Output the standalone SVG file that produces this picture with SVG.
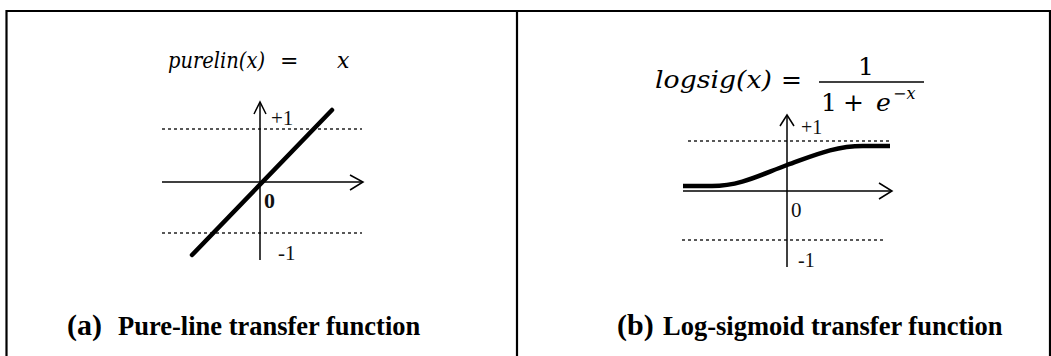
<svg xmlns="http://www.w3.org/2000/svg" width="1051" height="356" viewBox="0 0 1051 356">
<style>
.frame{stroke:#000;stroke-width:2.2;fill:none}
.axis{stroke:#000;stroke-width:1.5;fill:none}
.arrow{stroke:#000;stroke-width:1.5;fill:none;stroke-linejoin:miter}
.dash{stroke:#222;stroke-width:1.3;stroke-dasharray:3 3;fill:none}
.curve{stroke:#000;stroke-width:4.5;fill:none;stroke-linecap:round}
.eq{font-family:"DejaVu Serif","Liberation Serif",serif;font-style:italic;fill:#000}
.num{font-family:"DejaVu Serif","Liberation Serif",serif;fill:#000}
.lbl{font-family:"Liberation Serif",serif;fill:#111}
.cap{font-family:"Liberation Serif",serif;font-weight:bold;fill:#000}
</style>
<rect width="1051" height="356" fill="#fff"/>
<g id="frame">
<path class="frame" d="M6.5,356 V11 H1051"/>
<path class="frame" d="M517,11 V356"/>
<path class="frame" d="M1050,11 V356"/>
</g>
<g id="panel-a">
<text class="eq" x="168" y="68" font-size="22" textLength="97" lengthAdjust="spacingAndGlyphs">purelin(x)</text>
<text class="num" x="280" y="68" font-size="22">=</text>
<text class="eq" x="337" y="68" font-size="22">x</text>
<line class="dash" x1="162" y1="129" x2="362" y2="129"/>
<line class="dash" x1="162" y1="233" x2="362" y2="233"/>
<line class="axis" x1="260" y1="102" x2="260" y2="260"/>
<line class="axis" x1="162" y1="182" x2="362" y2="182"/>
<path class="arrow" d="M254,114 L260,102 L266,114"/>
<path class="arrow" d="M350,175 L363,182 L350,190"/>
<line class="curve" x1="192" y1="255" x2="332" y2="110"/>
<text class="lbl" x="271" y="125" font-size="21">+1</text>
<text class="lbl" x="264" y="208" font-size="22" font-weight="bold">0</text>
<text class="lbl" x="278" y="260" font-size="21">-1</text>
<text class="cap" x="67" y="335" font-size="30">(a)</text>
<text class="cap" x="118" y="335" font-size="26.5">Pure-line transfer function</text>
</g>
<g id="panel-b">
<text class="eq" x="655" y="88" font-size="25" textLength="117" lengthAdjust="spacingAndGlyphs">logsig(x)</text>
<text class="num" x="781" y="88" font-size="25">=</text>
<line x1="819" y1="82" x2="924" y2="82" stroke="#000" stroke-width="1.5"/>
<text class="num" x="866" y="75" font-size="25" text-anchor="middle">1</text>
<text class="num" x="821" y="111" font-size="25">1</text>
<text class="num" x="843" y="111" font-size="25">+</text>
<text class="eq" x="876" y="111" font-size="25">e</text>
<text class="eq" x="893" y="99" font-size="16">−x</text>
<line class="dash" x1="688" y1="141" x2="892" y2="141"/>
<line class="dash" x1="682" y1="240" x2="885" y2="240"/>
<line class="axis" x1="787" y1="115" x2="787" y2="267"/>
<line class="axis" x1="683" y1="191" x2="892" y2="191"/>
<path class="arrow" d="M780,126 L787,115 L794,126"/>
<path class="arrow" d="M879,183 L892,191 L879,199"/>
<path class="curve" style="stroke-linecap:butt" d="M683,186 L712,186 C740,186 760,175 787,165 C815,155 835,146 863,146 L890,146"/>
<text class="lbl" x="801" y="134" font-size="20">+1</text>
<text class="lbl" x="791" y="217" font-size="21">0</text>
<text class="lbl" x="798" y="267" font-size="20">-1</text>
<text class="cap" x="617" y="335" font-size="30">(b)</text>
<text class="cap" x="663" y="335" font-size="26.5">Log-sigmoid transfer function</text>
</g>
</svg>
